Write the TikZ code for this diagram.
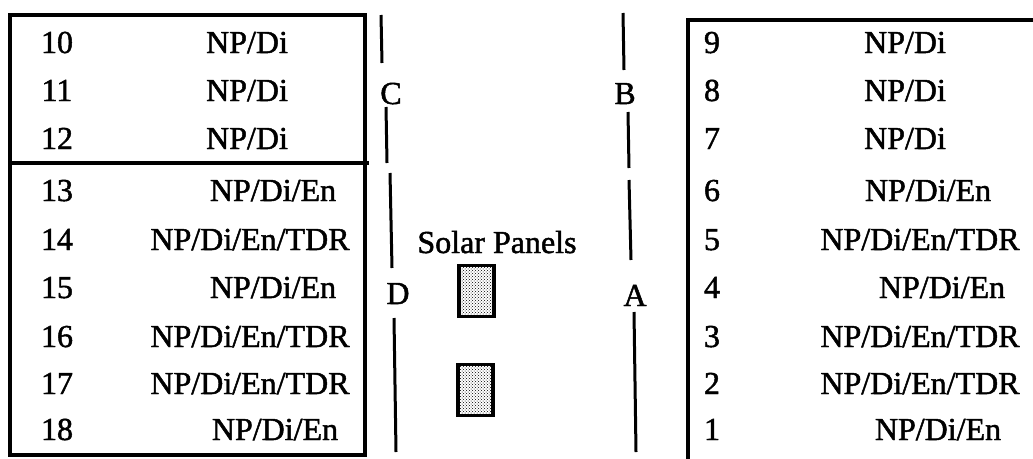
\documentclass[tikz,border=0pt]{standalone}
\usepackage{fontspec}
\setmainfont{Liberation Serif}[FakeBold=1.5]
\usetikzlibrary{patterns}
\begin{document}
\begin{tikzpicture}[x=1pt,y=-1pt,
  txt/.style={font=\fontsize{32}{36}\selectfont, inner sep=0pt, anchor=base},
  border/.style={line width=3.2pt, line cap=rect},
  axisline/.style={line width=3pt},
  panel/.style={draw, line width=3.2pt, pattern=crosshatch dots, pattern color=black}]
\useasboundingbox (0,0) rectangle (1033,458);
% left box
\draw[border] (10,15) rectangle (365,455);
\draw[line width=4.6pt] (10,163) -- (369,163);
% right box (open)
\draw[border] (688,458) -- (688,20) -- (1033,20);
% left rows
\foreach \n/\y/\t/\cx in {10/53/NP\slash Di/247, 11/101/NP\slash Di/247, 12/149/NP\slash Di/247,
  13/201/NP\slash Di\slash En/273, 14/250/NP\slash Di\slash En\slash TDR/250, 15/298/NP\slash Di\slash En/273,
  16/347/NP\slash Di\slash En\slash TDR/250, 17/394/NP\slash Di\slash En\slash TDR/250, 18/440/NP\slash Di\slash En/275}{
  \node[txt] (ln\n) at (57,\y) {\n};
  \node[txt] (lt\n) at (\cx,\y) {\t};
}
% right rows
\foreach \n/\y/\t/\cx in {9/53/NP\slash Di/905, 8/101/NP\slash Di/905, 7/149/NP\slash Di/905,
  6/201/NP\slash Di\slash En/928, 5/250/NP\slash Di\slash En\slash TDR/920, 4/298/NP\slash Di\slash En/942,
  3/347/NP\slash Di\slash En\slash TDR/920, 2/394/NP\slash Di\slash En\slash TDR/920, 1/440/NP\slash Di\slash En/938}{
  \node[txt] (rn\n) at (712,\y) {\n};
  \node[txt] (rt\n) at (\cx,\y) {\t};
}
% side labels
\node[txt] (C) at (391,104) {C};
\node[txt] (D) at (398,304) {D};
\node[txt] (B) at (625,104) {B};
\node[txt] (A) at (635,306) {A};
\node[txt] (solar) at (497,253) {Solar Panels};
% C/D line
\coordinate (c1) at (381,15); \coordinate (c2) at (382,63);
\coordinate (c3) at (386,107); \coordinate (c4) at (387,163);
\coordinate (d1) at (390,173); \coordinate (d2) at (392,268);
\coordinate (d3) at (394,318); \coordinate (d4) at (396,452);
\draw[axisline] (c1) -- (c2);
\draw[axisline] (c3) -- (c4);
\draw[axisline] (d1) -- (d2);
\draw[axisline] (d3) -- (d4);
% B/A line
\coordinate (b1) at (623,13); \coordinate (b2) at (624,70);
\coordinate (b3) at (628,112); \coordinate (b4) at (629,168);
\coordinate (b5) at (629,180); \coordinate (b6) at (631,260);
\coordinate (a1) at (634,312); \coordinate (a2) at (636,452);
\draw[axisline] (b1) -- (b2);
\draw[axisline] (b3) -- (b4);
\draw[axisline] (b5) -- (b6);
\draw[axisline] (a1) -- (a2);
% solar panels
\node[panel, minimum width=35pt, minimum height=51pt, inner sep=0pt] (p1) at (476.5,291) {};
\node[panel, minimum width=35pt, minimum height=51pt, inner sep=0pt] (p2) at (475.5,390) {};
\end{tikzpicture}
\end{document}
